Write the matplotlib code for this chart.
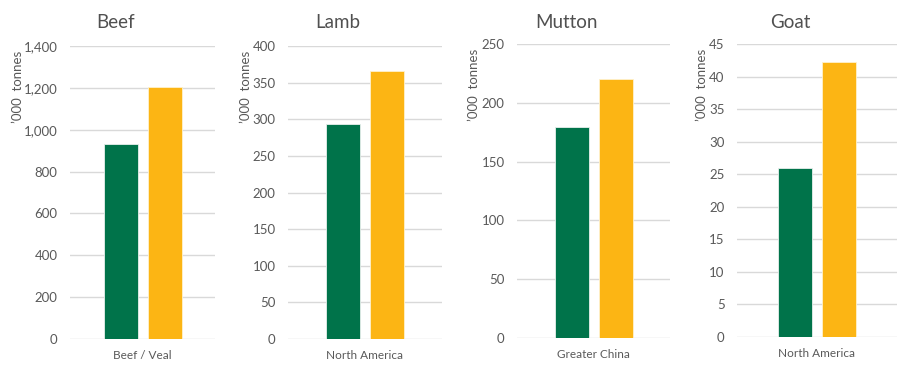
import matplotlib
matplotlib.use("Agg")
import matplotlib.pyplot as plt
from matplotlib.ticker import FuncFormatter

titles = ["Beef", "Lamb", "Mutton", "Goat"]
categories = ["Beef / Veal", "North America", "Greater China", "North America"]
series_green = [932, 294, 179, 25.9]
series_yellow = [1203, 366, 220, 42.3]
ymax = [1400, 400, 250, 45]
ystep = [200, 50, 50, 5]
ylabel = "\u2019000  tonnes"

GREEN = "#00734A"
YELLOW = "#FCB514"
GRID = "#D9D9D9"
TXT = "#595959"

W, H = 908, 368
fig = plt.figure(figsize=(W / 100, H / 100), dpi=100)
plt.rcParams['font.family'] = ['Lato', 'DejaVu Sans']

# axes pixel boxes: (left, right, top, bottom)
boxes = [(70, 215, 46, 339), (288, 442, 46, 339), (517, 670, 44, 338), (737, 897, 44, 337)]
ylab_x = [18, 246, 474, 702]

for i in range(4):
    l, r, t, b = boxes[i]
    ax = fig.add_axes([l / W, (H - b) / H, (r - l) / W, (b - t) / H])
    wpx = r - l
    bw = 34 / wpx
    off = 22 / wpx
    ax.bar([-off], [series_green[i]], width=bw, color=GREEN, edgecolor="#E8F0EC", linewidth=0.6, zorder=3)
    ax.bar([off], [series_yellow[i]], width=bw, color=YELLOW, edgecolor="#FFF2CC", linewidth=0.6, zorder=3)
    ax.set_xlim(-0.5, 0.5)
    ax.set_ylim(0, ymax[i])
    ax.set_yticks(list(range(0, ymax[i] + 1, ystep[i])))
    ax.yaxis.set_major_formatter(FuncFormatter(lambda v, p: f"{int(v):,}"))
    ax.grid(axis="y", color=GRID, linewidth=1, zorder=0)
    ax.set_axisbelow(True)
    for s in ax.spines.values():
        s.set_visible(False)
    ax.tick_params(axis="both", length=0, colors=TXT, labelsize=9.5)
    ax.tick_params(axis="y", pad=9)
    ax.set_xticks([0])
    ax.set_xticklabels([categories[i]], color=TXT, fontsize=8.5)
    ax.tick_params(axis="x", pad=8)
    fig.text(((l + r) / 2 - 27) / W, (H - 22) / H, titles[i], fontsize=13.5,
             color="#505050", ha="center", va="center")
    fig.text(ylab_x[i] / W, (H - t - 5) / H, ylabel, rotation=90, fontsize=9.5,
             color=TXT, ha="center", va="top")

fig.savefig("out.png", dpi=100)
